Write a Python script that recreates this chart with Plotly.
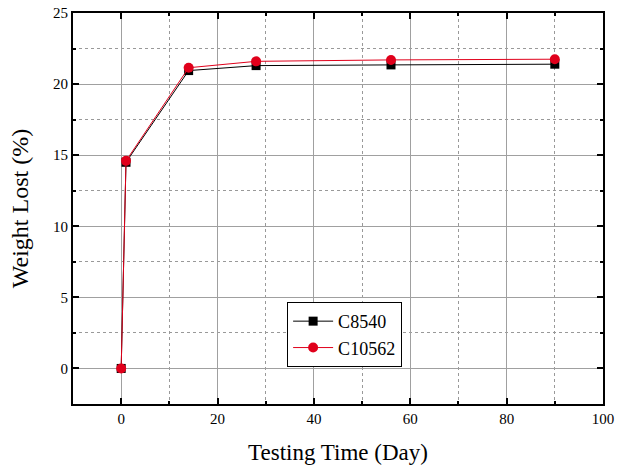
import plotly.graph_objects as go

days = [0, 1, 14, 28, 56, 90]
c8540 = [0, 14.5, 20.95, 21.3, 21.35, 21.4]
c10562 = [0, 14.6, 21.15, 21.6, 21.7, 21.75]

font = "Liberation Serif, Times New Roman, serif"

fig = go.Figure()
fig.add_trace(go.Scatter(x=days, y=c8540, name="C8540", mode="lines+markers",
                         line=dict(color="black", width=1),
                         marker=dict(symbol="square", size=9, color="black")))
fig.add_trace(go.Scatter(x=days, y=c10562, name="C10562", mode="lines+markers",
                         line=dict(color="#e0001b", width=1),
                         marker=dict(symbol="circle", size=10, color="#e0001b")))

axis_common = dict(showline=True, linecolor="black", linewidth=2, mirror="allticks",
                   ticks="inside", ticklen=6, tickwidth=2, tickcolor="black",
                   showgrid=True, gridcolor="#a0a0a0", gridwidth=1.2, zeroline=False,
                   automargin=False,
                   tickfont=dict(family=font, size=15, color="black"))

fig.update_xaxes(range=[-10, 100], dtick=20, tick0=0,
                 title=dict(text="Testing Time (Day)", font=dict(family=font, size=23, color="black"), standoff=18),
                 minor=dict(dtick=10, tick0=0, ticks="inside", ticklen=3, tickcolor="black",
                            showgrid=True, gridcolor="#999999", griddash="dot", gridwidth=1),
                 **axis_common)
fig.update_yaxes(range=[-2.5, 25], dtick=5, tick0=0,
                 title=dict(text="Weight Lost (%)", font=dict(family=font, size=24, color="black"), standoff=18),
                 minor=dict(dtick=2.5, tick0=0, ticks="inside", ticklen=3, tickcolor="black",
                            showgrid=True, gridcolor="#999999", griddash="dot", gridwidth=1),
                 **axis_common)

fig.update_layout(width=626, height=466, margin=dict(l=73, r=23, t=13, b=62),
                  plot_bgcolor="white", paper_bgcolor="white",
                  font=dict(family=font, color="black"),
                  legend=dict(x=0.404, y=0.261, xanchor="left", yanchor="top",
                              bordercolor="black", borderwidth=1, bgcolor="white",
                              font=dict(family=font, size=18, color="black"),
                              itemwidth=40, tracegroupgap=0))

fig.write_html("out.html")
